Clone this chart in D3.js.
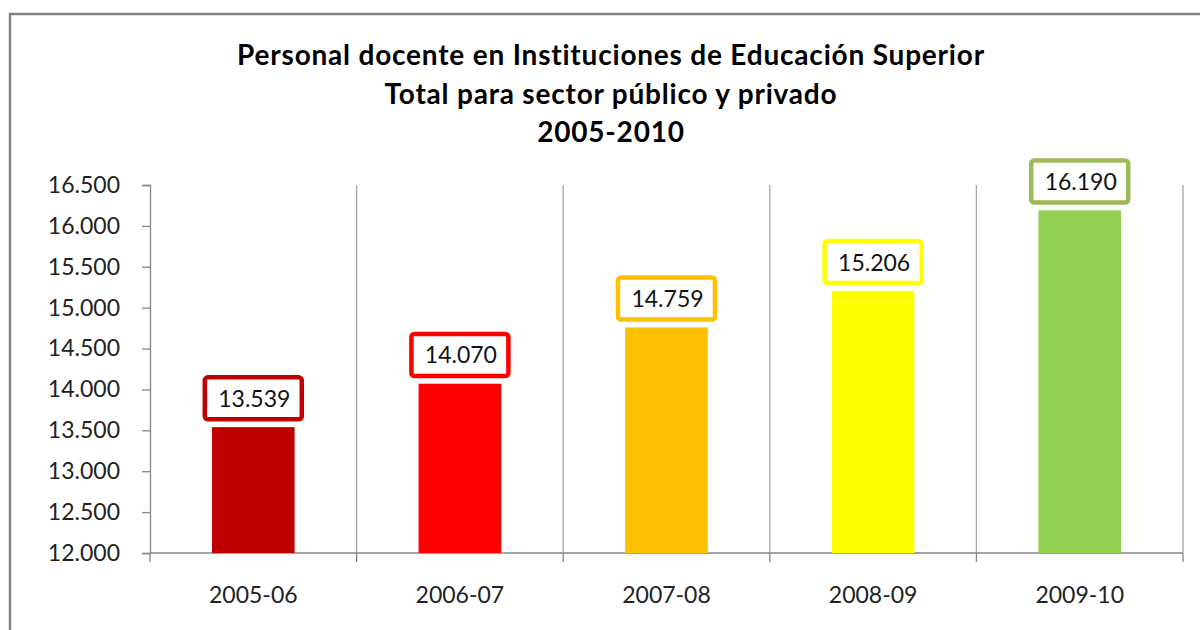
<!DOCTYPE html>
<html lang="es">
<head>
    <meta charset="UTF-8">
    <title>Personal docente en Instituciones de Educación Superior</title>
    <script src="https://d3js.org/d3.v7.min.js"></script>
    <style>
        body { margin: 0; background: #fff; }
        svg { display: block; font-family: Lato, "Open Sans", sans-serif; }
    </style>
</head>
<body>
<div id="chart"></div>
<script>
    // data
    const categories = ["2005-06", "2006-07", "2007-08", "2008-09", "2009-10"];
    const values = [13539, 14070, 14759, 15206, 16190];
    const barColors = ["#C00000", "#FF0000", "#FFC000", "#FFFF00", "#92D050"];
    const boxColors = ["#C00000", "#FF0000", "#FFC000", "#FFFF00", "#9BBB59"];
    const yTicks = [12000, 12500, 13000, 13500, 14000, 14500, 15000, 15500, 16000, 16500];
    const titleLines = [
        "Personal docente en Instituciones de Educación Superior",
        "Total para sector público y privado",
        "2005-2010"
    ];

    const width = 1200, height = 630;
    const plot = { left: 150, right: 1183, top: 185, bottom: 553 };

    // spanish number format: 16.500
    const es = d3.formatLocale({ decimal: ",", thousands: ".", grouping: [3], currency: ["", ""] });
    const fmt = es.format(",d");

    const svg = d3.select("#chart").append("svg")
        .attr("width", width)
        .attr("height", height);

    // outer frame
    svg.append("rect")
        .attr("x", 10).attr("y", 14)
        .attr("width", 1220).attr("height", 700)
        .attr("fill", "none")
        .attr("stroke", "#858585")
        .attr("stroke-width", 2.5);

    // title
    svg.append("g")
        .selectAll("text")
        .data(titleLines)
        .join("text")
        .attr("x", 611)
        .attr("y", (d, i) => 65 + i * 38.5)
        .attr("text-anchor", "middle")
        .attr("font-weight", "bold")
        .attr("font-size", 28)
        .attr("letter-spacing", 0.8)
        .attr("fill", "#000")
        .text(d => d);

    const x = d3.scaleBand()
        .domain(categories)
        .range([plot.left, plot.right])
        .padding(0);

    const y = d3.scaleLinear()
        .domain([12000, 16500])
        .range([plot.bottom, plot.top]);

    // vertical gridlines at category boundaries
    const bounds = categories.map(c => x(c)).concat([plot.right]);
    svg.append("g")
        .selectAll("line")
        .data(bounds.slice(1))
        .join("line")
        .attr("x1", d => d).attr("x2", d => d)
        .attr("y1", y(16500)).attr("y2", y(12000))
        .attr("stroke", "#A6A6A6")
        .attr("stroke-width", 1.3);

    // y axis
    const yAxis = svg.append("g")
        .attr("transform", `translate(${plot.left},0)`)
        .call(d3.axisLeft(y).tickValues(yTicks).tickFormat(fmt).tickSize(8).tickPadding(22));
    yAxis.select(".domain").attr("stroke", "#868686").attr("stroke-width", 1.3);
    yAxis.selectAll(".tick line").attr("stroke", "#868686").attr("stroke-width", 1.3);
    yAxis.selectAll(".tick text")
        .attr("font-size", 23)
        .attr("font-family", "Lato, sans-serif")
        .attr("fill", "#222");

    // x axis line + boundary ticks
    svg.append("line")
        .attr("x1", plot.left).attr("x2", plot.right)
        .attr("y1", y(12000)).attr("y2", y(12000))
        .attr("stroke", "#868686")
        .attr("stroke-width", 1.3);
    svg.append("g")
        .selectAll("line")
        .data(bounds)
        .join("line")
        .attr("x1", d => d).attr("x2", d => d)
        .attr("y1", y(12000)).attr("y2", y(12000) + 9)
        .attr("stroke", "#868686")
        .attr("stroke-width", 1.3);

    // x labels
    svg.append("g")
        .selectAll("text")
        .data(categories)
        .join("text")
        .attr("x", d => x(d) + x.bandwidth() / 2)
        .attr("y", 603)
        .attr("text-anchor", "middle")
        .attr("font-size", 23)
        .attr("fill", "#222")
        .text(d => d);

    // bars
    const barW = x.bandwidth() * 0.4;
    svg.append("g")
        .selectAll("rect")
        .data(values)
        .join("rect")
        .attr("x", (d, i) => x(categories[i]) + (x.bandwidth() - barW) / 2)
        .attr("y", d => y(d))
        .attr("width", barW)
        .attr("height", d => y(12000) - y(d))
        .attr("fill", (d, i) => barColors[i]);

    // value labels in bordered boxes
    const boxW = 97, boxH = 42, gap = 7.8;
    const labels = svg.append("g")
        .selectAll("g")
        .data(values)
        .join("g")
        .attr("transform", (d, i) => `translate(${x(categories[i]) + x.bandwidth() / 2},${y(d) - gap - boxH / 2})`);

    labels.append("rect")
        .attr("x", -boxW / 2).attr("y", -boxH / 2)
        .attr("width", boxW).attr("height", boxH)
        .attr("rx", 3)
        .attr("fill", "#fff")
        .attr("stroke", (d, i) => boxColors[i])
        .attr("stroke-width", 4.5);

    labels.append("text")
        .attr("x", 1)
        .attr("y", 8.5)
        .attr("text-anchor", "middle")
        .attr("font-size", 23)
        .attr("fill", "#111")
        .text(d => fmt(d));
</script>
</body>
</html>
